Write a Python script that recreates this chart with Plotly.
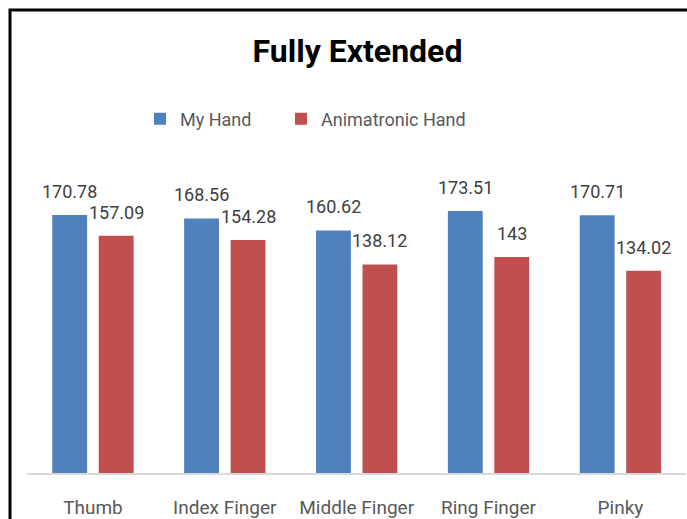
import plotly.graph_objects as go

categories = ["Thumb", "Index Finger", "Middle Finger", "Ring Finger", "Pinky"]
my_hand = [170.78, 168.56, 160.62, 173.51, 170.71]
animatronic_hand = [157.09, 154.28, 138.12, 143, 134.02]
series_names = ["My Hand", "Animatronic Hand"]
colors = ["#4F81BD", "#C0504D"]

FONT = "Roboto, Liberation Sans, sans-serif"
W, H = 687, 519
ML, MT = 10, 10
plot_left, plot_right = 27, 687
plot_top, plot_bottom = 171, 473
paper_w, paper_h = W - ML, H - MT

BARGAP = 0.295
GROUPGAP = 0.25

legend_names = ["legend", "legend2"]
legend_left_px = [140, 281]

fig = go.Figure()
for name, vals, col, lg in zip(series_names, [my_hand, animatronic_hand], colors, legend_names):
    fig.add_trace(go.Bar(name=name, x=categories, y=vals, legend=lg, showlegend=True,
                         marker=dict(color=col, line=dict(width=0))))

# data labels
cat_px = (plot_right - plot_left) / len(categories)
slot = (1 - BARGAP) / 2 * cat_px
annotations = []
for i, vals in enumerate([my_hand, animatronic_hand]):
    shift = (i - 0.5) * slot
    for c, v in zip(categories, vals):
        annotations.append(dict(
            x=c, y=v, xref="x", yref="y", text=f"{v:g}", showarrow=False,
            xanchor="center", yanchor="bottom", xshift=shift, yshift=11,
            font=dict(family=FONT, size=18, color="#404040")))

legend_style = dict(orientation="h", xanchor="left", yanchor="middle",
                    y=(H - 119) / paper_h, font=dict(family=FONT, size=18, color="#595959"),
                    bgcolor="rgba(0,0,0,0)", borderwidth=0, itemclick=False,
                    itemdoubleclick=False, visible=True)

fig.update_layout(
    width=W, height=H, showlegend=True,
    margin=dict(l=ML, r=0, t=MT, b=0, pad=0, autoexpand=False),
    paper_bgcolor="white", plot_bgcolor="white",
    barmode="group", bargap=BARGAP, bargroupgap=GROUPGAP,
    title=dict(text="<b>Fully Extended</b>", x=357.5 / W, xanchor="center",
               y=1 - 51 / H, yanchor="middle", xref="container", yref="container",
               font=dict(family=FONT, size=32, color="#000000")),
    legend=dict(x=(legend_left_px[0] - ML) / paper_w, **legend_style),
    legend2=dict(x=(legend_left_px[1] - ML) / paper_w, **legend_style),
    xaxis=dict(domain=[(plot_left - ML) / paper_w, 0.999], showline=True, linecolor="#D9D9D9",
               linewidth=2, ticks="", showgrid=False, zeroline=False,
               tickfont=dict(family=FONT, size=19, color="#595959"),
               ticklabelstandoff=16),
    yaxis=dict(domain=[(H - plot_bottom) / paper_h, (H - plot_top) / paper_h],
               range=[0, 200], visible=False, showgrid=False, zeroline=False),
    annotations=annotations,
    shapes=[
        dict(type="rect", xref="paper", yref="paper", x0=0, x1=1.3, y0=-0.3, y1=1,
             line=dict(color="#000000", width=3), fillcolor="rgba(0,0,0,0)", layer="above"),
    ],
)

fig.write_html("out.html", config={"displayModeBar": False})
